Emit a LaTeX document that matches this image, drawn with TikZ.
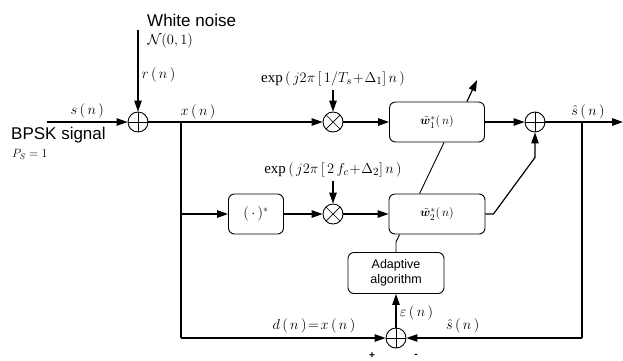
\documentclass[tikz,border=0pt]{standalone}
\usepackage{amsmath,amssymb,bm}
\usepackage{fontspec}
\setmainfont{Liberation Serif}
\setsansfont{Liberation Sans}
\usetikzlibrary{arrows.meta,positioning,calc}

\begin{document}
\begin{tikzpicture}[
	x=1pt, y=1pt,
	every node/.style={font=\fontsize{14}{15}\selectfont},
	block/.style={draw, rounded corners=6pt, line width=0.9pt, minimum height=40pt, align=center},
	sumnode/.style={circle, draw, line width=0.9pt, minimum size=20pt, inner sep=0pt,
		path picture={\draw[line width=0.7pt] (path picture bounding box.north) -- (path picture bounding box.south)
			(path picture bounding box.west) -- (path picture bounding box.east);}},
	mulnode/.style={circle, draw, line width=0.9pt, minimum size=20pt, inner sep=0pt,
		path picture={\draw[line width=0.7pt] (path picture bounding box.north west) -- (path picture bounding box.south east)
			(path picture bounding box.south west) -- (path picture bounding box.north east);}},
	sig/.style={line width=1.2pt},
	arrow/.style={sig, -{Triangle[length=11pt,width=7.5pt]}},
	txt/.style={font=\sffamily\fontsize{17}{18}\selectfont, align=left},
	mixlabel/.style={font=\fontsize{15}{16}\selectfont}
	]
	\useasboundingbox (0,0) rectangle (623,-360);
	
	% blocks
	\node[sumnode] (add1) at (138,-122) {};
	\node[mulnode] (mix1) at (333,-122) {};
	\node[block, minimum width=95pt, font=\fontsize{13}{14}\selectfont] (w1) at (437,-122) {$\tilde{\bm{w}}_1^*(\,n)$};
	\node[sumnode] (add2) at (535,-122) {};
	\node[block, minimum width=55pt] (conj) at (256,-214) {$(\,\cdot\,)^*$};
	\node[mulnode] (mix2) at (333,-214) {};
	\node[block, minimum width=96pt, font=\fontsize{13}{14}\selectfont] (w2) at (437,-214) {$\tilde{\bm{w}}_2^*(\,n)$};
	\node[block, align=center, minimum width=96pt, minimum height=41pt,
		font=\sffamily\fontsize{12.5}{15}\selectfont] (adapt) at (396,-273) {Adaptive\\algorithm};
	\node[sumnode] (add3) at (396,-338) {};
	
	% free ends
	\coordinate (in) at (47,-122);
	\coordinate (noise) at (138,-30);
	\coordinate (split) at (181,-122);
	\coordinate (lowleft) at (181,-338);
	\coordinate (tap) at (582,-122);
	\coordinate (lowright) at (582,-338);
	\coordinate (out) at (623,-122);
	\coordinate (upd) at (477,-80);
	
	% texts
	\node[txt, anchor=west, inner sep=0pt] (wn) at (147,-20) {White noise};
	\node[anchor=west, font=\fontsize{14.5}{15}\selectfont] (dist) at (144,-41) {$\mathcal{N}(0,1)$};
	\node[txt, anchor=west, inner sep=0pt] (bpsk) at (11,-135) {BPSK signal};
	\node[anchor=west, inner sep=0pt, font=\fontsize{12}{14}\selectfont] (pow) at (12,-154) {$P_S=1$};
	\node[mixlabel] (exp1) at (333,-79) {$\exp\,(\,j2\pi\,[\,1/T_s\!+\!\Delta_1]\,n\,)$};
	\node[mixlabel] (exp2) at (333,-170) {$\exp\,(\,j2\pi\,[\,2\,f_c\!+\!\Delta_2]\,n\,)$};
	\node (xlab) at (198,-112) {$x\,(\,n\,)$};
	\node (shat) at (588,-112) {$\hat{s}\,(\,n\,)$};
	
	% connectors
	\draw[arrow] (in) -- node[above] {$s\,(\,n\,)$} (add1);
	\draw[arrow] (noise) -- node[pos=0.55, right] {$r\,(\,n\,)$} (add1);
	\draw[sig] (add1) -- (split);
	\draw[arrow] (split) -- (mix1);
	\draw[arrow] (exp1) -- (mix1);
	\draw[arrow] (mix1) -- (w1);
	\draw[arrow] (w1) -- (add2);
	\draw[arrow] ($(w1.north east)+(-18,0)$) -- (upd);
	\draw[sig] (split) -- (lowleft);
	\draw[arrow] (split |- conj) -- (conj);
	\draw[arrow] (conj) -- (mix2);
	\draw[arrow] (exp2) -- (mix2);
	\draw[arrow] (mix2) -- (w2);
	\draw[arrow] (w2.east) -- ++(8,0) -- ($(add2.south)+(0,-25)$) -- (add2);
	\draw[line width=0.9pt] ($(w2.north west)+(31,0)$) -- ($(w1.south west)+(55,0)$);
	\draw[line width=0.9pt] (adapt.north) -- ++(0,10) -- ($(w2.south west)+(11,0)$);
	\draw[sig] (add2) -- (tap);
	\draw[arrow] (tap) -- (out);
	\draw[sig] (tap) -- (lowright);
	\draw[arrow] (lowleft) -- node[pos=0.65, above=1pt] {$d\,(\,n\,)\!=\!x\,(\,n\,)$} (add3);
	\draw[arrow] (lowright) -- node[pos=0.68, above=1pt] {$\hat{s}\,(\,n\,)$} (add3);
	\draw[arrow] (add3) -- node[right, pos=0.45] {$\varepsilon\,(\,n\,)$} (adapt);
	\node[font=\sffamily\bfseries\fontsize{10}{12}\selectfont] (plus) at (372,-356) {+};
	\node[font=\sffamily\bfseries\fontsize{10}{12}\selectfont] (minus) at (416,-356) {-};
	
\end{tikzpicture}
\end{document}
